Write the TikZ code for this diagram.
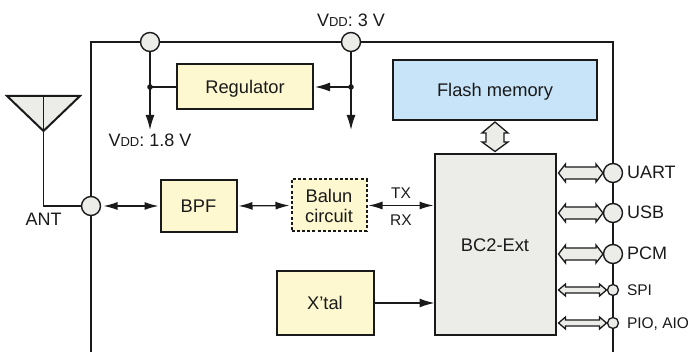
\documentclass[tikz,border=0pt]{standalone}
\usepackage{fontspec}
\setmainfont{Liberation Sans}
\usetikzlibrary{arrows.meta}
\definecolor{creamfill}{HTML}{FDF8CF}
\definecolor{bluefill}{HTML}{C8E4F8}
\definecolor{greyfill}{HTML}{ECEDE9}
\definecolor{ink}{HTML}{1A1A1A}
\tikzset{
  x=1pt,y=-1pt,
  every node/.style={inner sep=0pt,outer sep=0pt,text=ink},
  boxbase/.style={draw=ink,line width=2pt,fill=creamfill,align=center,font=\fontsize{18.3}{20}\selectfont},
  boxc/.style={boxbase,text height=13.2pt,text depth=0pt},
  lbl/.style={font=\fontsize{18}{20}\selectfont},
  lblsmall/.style={font=\fontsize{15.5}{18}\selectfont},
  port/.style={circle,draw=ink,line width=1.4pt,fill=greyfill,minimum size=19pt},
  portsmall/.style={circle,draw=ink,line width=1.3pt,fill=greyfill,minimum size=11pt},
  wire/.style={draw=ink,line width=1.3pt},
  arr/.style={wire,-{Latex[length=15pt,width=9pt]}},
  biarr/.style={wire,{Latex[length=14pt,width=8pt]}-{Latex[length=14pt,width=8pt]}},
  block/.style={draw=ink,line width=1.3pt,fill=greyfill,line join=miter},
}
\newcommand{\vdd}{V{\fontsize{13}{14}\selectfont DD}}
\newcommand{\hblock}[4]{% x1, x2, y, half-height
  \path[block] (#1,#3) -- (#1+7,#3-#4-3) -- (#1+7,#3-#4) -- (#2-7,#3-#4) -- (#2-7,#3-#4-3) -- (#2,#3)
   -- (#2-7,#3+#4+3) -- (#2-7,#3+#4) -- (#1+7,#3+#4) -- (#1+7,#3+#4+3) -- cycle;}
\begin{document}
\begin{tikzpicture}
\useasboundingbox (0,0) rectangle (691,352);
% chip outline
\coordinate (bl) at (91,352);
\coordinate (br) at (613,352);
\draw[draw=ink,line width=2.6pt,line join=miter] (bl) -- (91,42) -- (613,42) -- (br);
% nodes
\node[boxc,minimum width=136pt,minimum height=45pt] (reg) at (245,87) {Regulator};
\node[boxc,fill=bluefill,minimum width=204pt,minimum height=60pt] (flash) at (495,90) {Flash memory};
\node[boxc,fill=greyfill,minimum width=121pt,minimum height=181pt] (bc) at (495,245) {BC2-Ext};
\node[boxc,minimum width=76pt,minimum height=52pt] (bpf) at (198.5,206) {BPF};
\node[boxbase,dashed,dash pattern=on 3pt off 2.2pt,minimum width=75pt,minimum height=52pt] (balun) at (329,205.5) {Balun\\circuit};
\node[boxc,minimum width=97pt,minimum height=64pt] (xtal) at (325,303) {X'tal};
\node[port] (p18) at (150,42) {};
\node[port] (p3) at (351,42) {};
\node[port] (pant) at (91,206) {};
\node[port] (puart) at (613,173) {};
\node[port] (pusb) at (613,213) {};
\node[port] (ppcm) at (613,254) {};
\node[portsmall] (pspi) at (613,290) {};
\node[portsmall] (ppio) at (613,323) {};
% antenna
\coordinate (anttop) at (43.5,96);
\coordinate (anttip) at (43.5,131);
\draw[draw=ink,line width=2pt,fill=greyfill,line join=miter] (7,96) -- (80,96) -- (anttip) -- cycle;
\draw[wire] (anttop) -- (anttip) -- (43.5,206) -- (pant.west);
% regulator wiring
\coordinate (d18) at (150,87);
\coordinate (d3) at (351,87);
\coordinate (e18) at (150,130);
\coordinate (e3) at (351,130);
\draw[arr] (p18.south) -- (e18);
\draw[arr] (p3.south) -- (e3);
\draw[wire] (d18) -- (reg.west);
\draw[arr,shorten >=2pt] (d3) -- (reg.east);
\fill[ink] (d18) circle (2.8pt) (d3) circle (2.8pt);
% signal arrows
\draw[biarr,shorten <=3pt,shorten >=2pt] (pant.east) -- (bpf.west);
\draw[biarr,shorten <=2pt,shorten >=2pt] (bpf.east) -- (balun.west);
\draw[biarr,shorten <=2pt,shorten >=1pt] (balun.east) -- (bc.west |- balun.east);
\draw[arr] (xtal.east |- 0,303) -- (bc.west |- 0,303);
% block arrows
\path[block] (495,122) -- (508,133) -- (504,133) -- (504,142) -- (508,142) -- (495,151.5) -- (482,142) -- (486,142) -- (486,133) -- (482,133) -- cycle;
\hblock{558.5}{603}{173}{6}
\hblock{558.5}{603}{213}{6}
\hblock{558.5}{603}{254}{6}
\hblock{558.5}{606.5}{290}{3}
\hblock{558.5}{606.5}{323}{3}
% labels
\node[lbl,anchor=base] at (351,27) {\vdd: 3 V};
\node[lbl,anchor=base] (l18) at (150,147) {\vdd: 1.8 V};
\node[lbl,anchor=base] at (43.5,226) {ANT};
\node[lblsmall,anchor=base] at (401,199) {TX};
\node[lblsmall,anchor=base] at (401,226) {RX};
\node[lbl,anchor=base west] at (627,179) {UART};
\node[lbl,anchor=base west] at (627,219) {USB};
\node[lbl,anchor=base west] at (627,260) {PCM};
\node[lblsmall,anchor=base west] at (627,296) {SPI};
\node[lblsmall,anchor=base west] at (627,329) {PIO, AIO};
\end{tikzpicture}
\end{document}
